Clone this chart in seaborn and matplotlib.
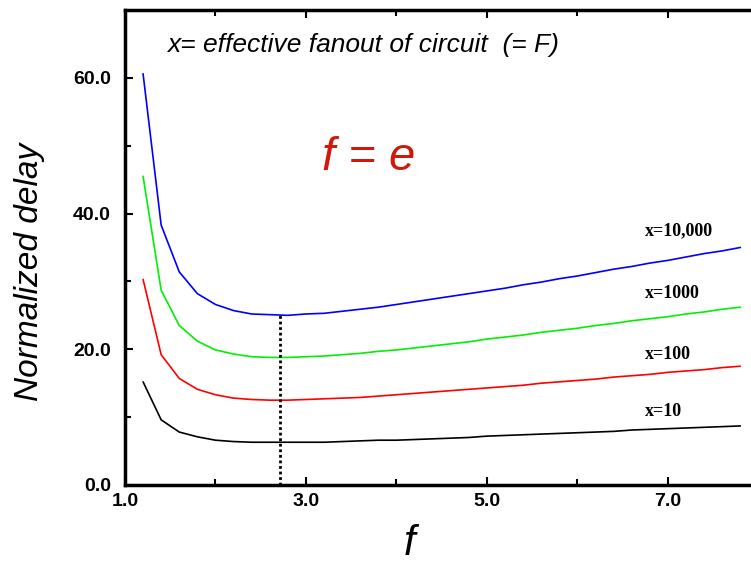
import numpy as np
import pandas as pd
import matplotlib.pyplot as plt
import seaborn as sns
from matplotlib.ticker import FixedLocator, FormatStrFormatter

# stage effort f, from 1.2 to 7.8
f_vals = [1.2, 1.4, 1.6, 1.8, 2.0, 2.2, 2.4, 2.6, 2.8, 3.0, 3.2, 3.4, 3.6, 3.8,
          4.0, 4.2, 4.4, 4.6, 4.8, 5.0, 5.2, 5.4, 5.6, 5.8, 6.0, 6.2, 6.4, 6.6,
          6.8, 7.0, 7.2, 7.4, 7.6, 7.8]

delay_10000 = [60.6, 38.3, 31.4, 28.2, 26.6, 25.7, 25.2, 25.1, 25.0, 25.2, 25.3, 25.6,
               25.9, 26.2, 26.6, 27.0, 27.4, 27.8, 28.2, 28.6, 29.0, 29.5, 29.9, 30.4,
               30.8, 31.3, 31.8, 32.2, 32.7, 33.1, 33.6, 34.1, 34.5, 35.0]
delay_1000 = [45.5, 28.7, 23.5, 21.2, 19.9, 19.3, 18.9, 18.8, 18.8, 18.9, 19.0, 19.2,
              19.4, 19.7, 19.9, 20.2, 20.5, 20.8, 21.1, 21.5, 21.8, 22.1, 22.5, 22.8,
              23.1, 23.5, 23.8, 24.2, 24.5, 24.8, 25.2, 25.5, 25.9, 26.2]
delay_100 = [30.3, 19.2, 15.7, 14.1, 13.3, 12.8, 12.6, 12.5, 12.5, 12.6, 12.7, 12.8,
             12.9, 13.1, 13.3, 13.5, 13.7, 13.9, 14.1, 14.3, 14.5, 14.7, 15.0, 15.2,
             15.4, 15.6, 15.9, 16.1, 16.3, 16.6, 16.8, 17.0, 17.3, 17.5]
delay_10 = [15.2, 9.6, 7.8, 7.1, 6.6, 6.4, 6.3, 6.3, 6.3, 6.3, 6.3, 6.4,
            6.5, 6.6, 6.6, 6.7, 6.8, 6.9, 7.0, 7.2, 7.3, 7.4, 7.5, 7.6,
            7.7, 7.8, 7.9, 8.1, 8.2, 8.3, 8.4, 8.5, 8.6, 8.7]

series_names = ["x=10,000", "x=1000", "x=100", "x=10"]
series_colors = ["#0000ff", "#00f000", "#ff0000", "#000000"]
label_pos = [(6.75, 36.8), (6.75, 27.6), (6.75, 18.6), (6.75, 10.2)]

x_major = [1, 3, 5, 7]
x_minor = [2, 4, 6]
y_major = [0, 20, 40, 60]
y_minor = [10, 30, 50]
opt_f = np.e

rows = []
for name, vals in zip(series_names, [delay_10000, delay_1000, delay_100, delay_10]):
    for fv, d in zip(f_vals, vals):
        rows.append({"f": fv, "delay": d, "fanout": name})
df = pd.DataFrame(rows)

sns.set_theme(style="ticks")
plt.rcParams['font.family'] = ['Liberation Sans', 'DejaVu Sans']
plt.rcParams['text.color'] = 'black'
plt.rcParams['xtick.color'] = 'black'
plt.rcParams['ytick.color'] = 'black'
plt.rcParams['xtick.labelcolor'] = 'black'
plt.rcParams['ytick.labelcolor'] = 'black'

fig = plt.figure(figsize=(7.51, 5.64), dpi=100)
ax = fig.add_axes([0.1664, 0.1401, 0.8435, 0.8422])

sns.lineplot(data=df, x="f", y="delay", hue="fanout", hue_order=series_names,
             palette=dict(zip(series_names, series_colors)), linewidth=1.2,
             legend=False, ax=ax)

# optimum marker at f = e
ax.vlines(opt_f, 0, np.interp(opt_f, f_vals, delay_10000), colors="black",
          linestyles=(0, (1, 1)), linewidth=2)

ax.set_xlim(1.0, 8.0)
ax.set_ylim(0, 70)
ax.xaxis.set_major_locator(FixedLocator(x_major))
ax.xaxis.set_minor_locator(FixedLocator(x_minor))
ax.yaxis.set_major_locator(FixedLocator(y_major))
ax.yaxis.set_minor_locator(FixedLocator(y_minor))
ax.xaxis.set_major_formatter(FormatStrFormatter('%.1f'))
ax.yaxis.set_major_formatter(FormatStrFormatter('%.1f'))

for side in ["left", "bottom", "top", "right"]:
    ax.spines[side].set_linewidth(2.5)
    ax.spines[side].set_color("black")

ax.tick_params(which="both", direction="in", top=True, right=False,
               color="black", width=1.5)
ax.tick_params(which="major", length=6)
ax.tick_params(which="minor", length=4)
ax.tick_params(axis="x", which="major", pad=6)
ax.tick_params(axis="y", which="major", pad=10)
for lab in ax.get_xticklabels() + ax.get_yticklabels():
    lab.set_fontsize(14)
    lab.set_fontweight("bold")
    lab.set_color("black")

ax.set_xlabel("")
ax.set_ylabel("")
fig.text(0.039, 0.518, "Normalized delay", rotation=90, fontsize=24,
         fontstyle="italic", ha="center", va="center")
fig.text(0.545, 0.0, "f", fontsize=30, fontstyle="italic", ha="center", va="bottom")

ax.text(1.46, 63.8, "x= effective fanout of circuit  (= F)", fontsize=19,
        fontstyle="italic", ha="left", va="baseline")
ax.text(3.69, 48.2, "f = e", fontsize=34, fontstyle="italic", color="#d0190b",
        ha="center", va="center")

for name, (lx, ly) in zip(series_names, label_pos):
    ax.text(lx, ly, name, fontsize=13, fontweight="bold", ha="left", va="baseline",
            family=["Liberation Serif", "DejaVu Serif"])

fig.savefig("out.png", dpi=100)
